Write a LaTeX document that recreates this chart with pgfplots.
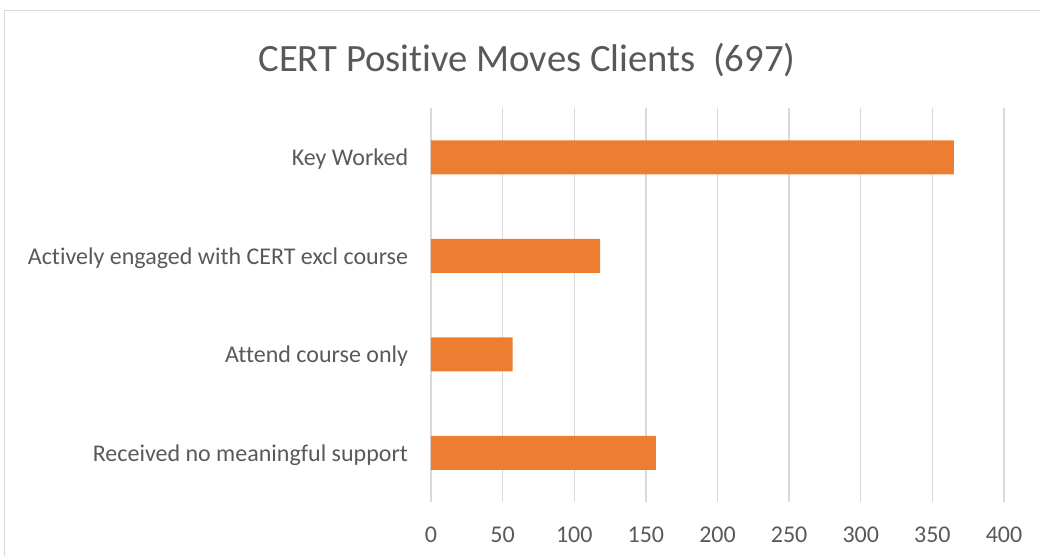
\documentclass[border=0pt]{standalone}
\usepackage{fontspec}
\setmainfont{Carlito}[Ligatures=NoCommon]
\usepackage{pgfplots}
\pgfplotsset{compat=1.18}
\definecolor{barorange}{HTML}{ED7D31}
\definecolor{txtgray}{HTML}{595959}
\definecolor{gridgray}{HTML}{D9D9D9}
\begin{document}
\begin{tikzpicture}
\clip (0,0) rectangle ({1040*0.75pt},{-556*0.75pt});
\draw[gridgray, line width=1pt] ({4.5*0.75pt},{-10.5*0.75pt}) rectangle ({1080*0.75pt},{-600*0.75pt});
\node[txtgray, font=\fontsize{29}{34}\selectfont, anchor=base, inner sep=0pt] at ({527*0.75pt},{-72*0.75pt}) {CERT Positive Moves Clients\ \ (697)};
\begin{axis}[
  at={({431*0.75pt},{-502*0.75pt})}, anchor=south west,
  scale only axis, width=429.75pt, height=295.5pt,
  xbar, bar width=25.5pt,
  xmin=0, xmax=400, ymin=-0.5, ymax=3.5,
  enlargelimits=false, clip=false,
  xtick={0,50,...,400},
  ytick={0,1,2,3},
  yticklabels={Received no meaningful support, Attend course only, Actively engaged with CERT excl course, Key Worked},
  xmajorgrids, major grid style={gridgray, line width=1pt},
  axis line style={draw=none}, major tick style={draw=none},
  tick label style={txtgray, font=\fontsize{18}{21}\selectfont, inner sep=0pt},
  /pgf/number format/assume math mode=true,
  xticklabel style={anchor=north, yshift=-18.75pt},
  yticklabel style={anchor=base east, xshift=-12.75pt, yshift=-6.5pt},
]
\addplot[fill=barorange, draw=none] coordinates {(157,0) (57,1) (118,2) (365,3)};
\end{axis}
\end{tikzpicture}
\end{document}
